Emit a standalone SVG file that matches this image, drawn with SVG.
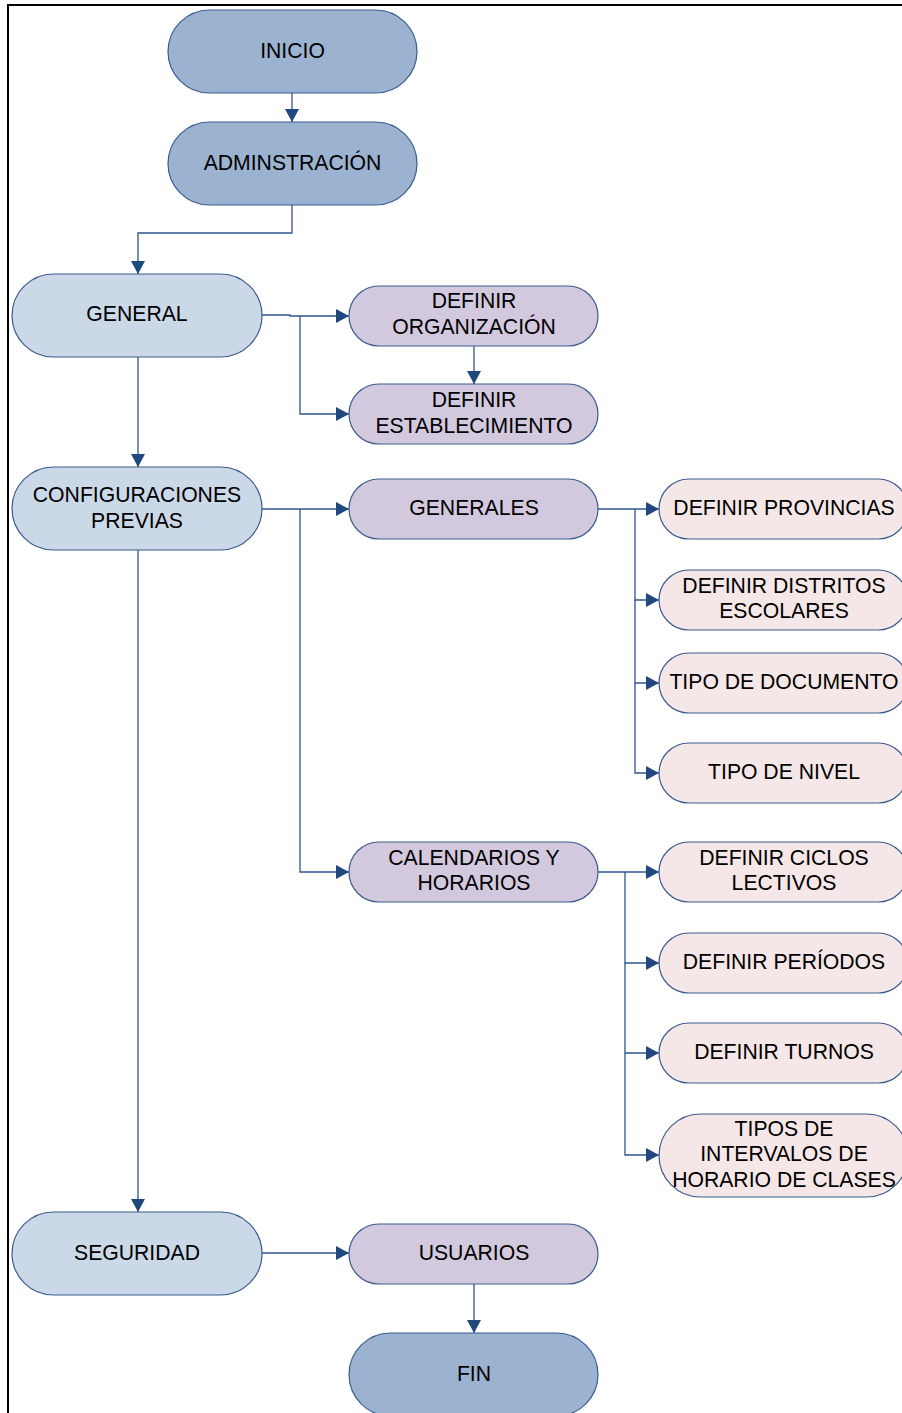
<svg xmlns="http://www.w3.org/2000/svg" width="902" height="1413" viewBox="0 0 902 1413">
<style>
.n{stroke:#3A5C8E;stroke-width:1.2}
.d{fill:#9BB3D1}
.l{fill:#CAD8E7}
.p{fill:#D3C9DE}
.k{fill:#F5E7E7}
text{font-family:"Liberation Sans",Arial,sans-serif;font-size:21.2px;fill:#000;text-anchor:middle}
.c{fill:none;stroke:#2F5590;stroke-width:1.3}
.f{fill:none;stroke:#000;stroke-width:2}
</style>
<defs>
<marker id="a" markerUnits="userSpaceOnUse" markerWidth="14" markerHeight="14" refX="13" refY="7" orient="auto">
<path d="M0,0 L13,7 L0,14 z" fill="#1F497D"/>
</marker>
</defs>
<rect width="902" height="1413" fill="#fff"/>
<path class="f" d="M902,5 H8 V1413"/>
<g id="connectors">
<path class="c" d="M292,93 V122" marker-end="url(#a)"/>
<path class="c" d="M292,205 V233 H138 V274" marker-end="url(#a)"/>
<path class="c" d="M138,357 V467" marker-end="url(#a)"/>
<path class="c" d="M138,550 V1212" marker-end="url(#a)"/>
<path class="c" d="M262,315 H290 V316 H349" marker-end="url(#a)"/>
<path class="c" d="M300,316 V414 H349" marker-end="url(#a)"/>
<path class="c" d="M474,346 V384" marker-end="url(#a)"/>
<path class="c" d="M262,509 H349" marker-end="url(#a)"/>
<path class="c" d="M300,509 V872 H349" marker-end="url(#a)"/>
<path class="c" d="M598,509 H659" marker-end="url(#a)"/>
<path class="c" d="M635,509 V600 H659" marker-end="url(#a)"/>
<path class="c" d="M635,600 V683 H659" marker-end="url(#a)"/>
<path class="c" d="M635,683 V773 H659" marker-end="url(#a)"/>
<path class="c" d="M598,872 H659" marker-end="url(#a)"/>
<path class="c" d="M625,872 V963 H659" marker-end="url(#a)"/>
<path class="c" d="M625,963 V1053 H659" marker-end="url(#a)"/>
<path class="c" d="M625,1053 V1155 H659" marker-end="url(#a)"/>
<path class="c" d="M262,1253 H349" marker-end="url(#a)"/>
<path class="c" d="M474,1284 V1333" marker-end="url(#a)"/>
</g>
<g id="inicio"><rect class="n d" x="168" y="10" width="249" height="83" rx="41.5"/><text x="292.5" y="57.5">INICIO</text></g>
<g id="admin"><rect class="n d" x="168" y="122" width="249" height="83" rx="41.5"/><text x="292.5" y="169.5">ADMINSTRACIÓN</text></g>
<g id="general"><rect class="n l" x="12" y="274" width="250" height="83" rx="41.5"/><text x="137" y="321">GENERAL</text></g>
<g id="config"><rect class="n l" x="12" y="467" width="250" height="83" rx="41.5"/><text x="137" y="502">CONFIGURACIONES</text><text x="137" y="528">PREVIAS</text></g>
<g id="seguridad"><rect class="n l" x="12" y="1212" width="250" height="83" rx="41.5"/><text x="137" y="1259.5">SEGURIDAD</text></g>
<g id="org"><rect class="n p" x="349" y="286" width="249" height="60" rx="30"/><text x="474" y="308">DEFINIR</text><text x="474" y="334">ORGANIZACIÓN</text></g>
<g id="est"><rect class="n p" x="349" y="384" width="249" height="60" rx="30"/><text x="474" y="407">DEFINIR</text><text x="474" y="433">ESTABLECIMIENTO</text></g>
<g id="generales"><rect class="n p" x="349" y="479" width="249" height="60" rx="30"/><text x="474" y="515">GENERALES</text></g>
<g id="calendarios"><rect class="n p" x="349" y="842" width="249" height="60" rx="30"/><text x="474" y="865">CALENDARIOS Y</text><text x="474" y="890">HORARIOS</text></g>
<g id="usuarios"><rect class="n p" x="349" y="1224" width="249" height="60" rx="30"/><text x="474" y="1260">USUARIOS</text></g>
<g id="fin"><rect class="n d" x="349" y="1333" width="249" height="83" rx="41.5"/><text x="474" y="1380.5">FIN</text></g>
<g id="provincias"><rect class="n k" x="659" y="479" width="249" height="60" rx="30"/><text x="784" y="515">DEFINIR PROVINCIAS</text></g>
<g id="distritos"><rect class="n k" x="659" y="570" width="249" height="60" rx="30"/><text x="784" y="593">DEFINIR DISTRITOS</text><text x="784" y="618">ESCOLARES</text></g>
<g id="documento"><rect class="n k" x="659" y="653" width="249" height="60" rx="30"/><text x="784" y="689">TIPO DE DOCUMENTO</text></g>
<g id="nivel"><rect class="n k" x="659" y="743" width="249" height="60" rx="30"/><text x="784" y="779">TIPO DE NIVEL</text></g>
<g id="ciclos"><rect class="n k" x="659" y="842" width="249" height="60" rx="30"/><text x="784" y="865">DEFINIR CICLOS</text><text x="784" y="890">LECTIVOS</text></g>
<g id="periodos"><rect class="n k" x="659" y="933" width="249" height="60" rx="30"/><text x="784" y="969">DEFINIR PERÍODOS</text></g>
<g id="turnos"><rect class="n k" x="659" y="1023" width="249" height="60" rx="30"/><text x="784" y="1059">DEFINIR TURNOS</text></g>
<g id="intervalos"><rect class="n k" x="659" y="1114" width="249" height="83" rx="41.5"/><text x="784" y="1135.5">TIPOS DE</text><text x="784" y="1161">INTERVALOS DE</text><text x="784" y="1186.5">HORARIO DE CLASES</text></g>
</svg>
